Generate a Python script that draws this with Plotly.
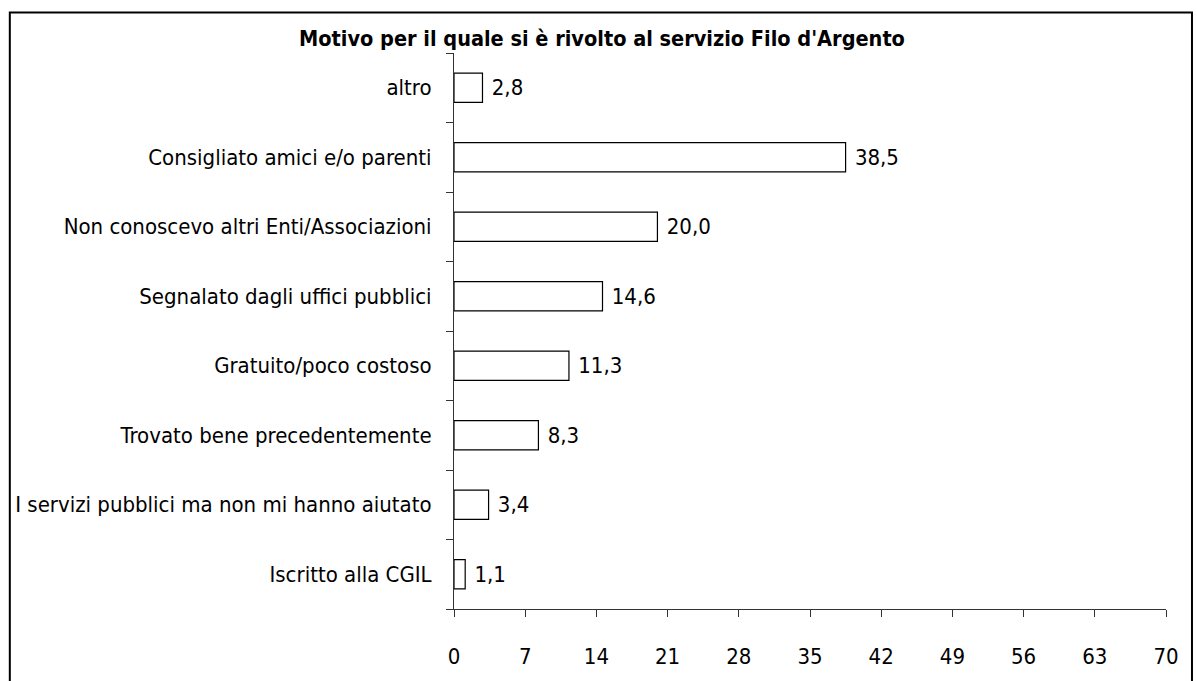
import plotly.graph_objects as go

categories = [
    "altro",
    "Consigliato amici e/o parenti",
    "Non conoscevo altri Enti/Associazioni",
    "Segnalato dagli uffici pubblici",
    "Gratuito/poco costoso",
    "Trovato bene precedentemente",
    "I servizi pubblici ma non mi hanno aiutato",
    "Iscritto alla CGIL",
]
values = [2.8, 38.5, 20.0, 14.6, 11.3, 8.3, 3.4, 1.1]
x_ticks = [0, 7, 14, 21, 28, 35, 42, 49, 56, 63, 70]
title_text = "Motivo per il quale si è rivolto al servizio Filo d'Argento"

FONT = "DejaVu Sans Condensed"
FS = 22

W, H = 1197, 681
L, R, T, B = 453.5, 1166, 52.5, 623
pw, ph = R - L, B - T


def px(xp):
    return (xp - L) / pw


def py(yp):
    return (B - yp) / ph


fig = go.Figure(
    go.Bar(
        x=values,
        y=categories,
        orientation="h",
        marker=dict(color="white", line=dict(color="black", width=1.2)),
        texttemplate=" %{x:.1f}",
        textposition="outside",
        textfont=dict(family=FONT, size=FS, color="black"),
        cliponaxis=False,
        width=0.42,
    )
)

fig.update_layout(
    width=W,
    height=H,
    margin=dict(l=L, r=W - R, t=T, b=H - B, pad=0),
    paper_bgcolor="white",
    plot_bgcolor="white",
    separators=",.",
    showlegend=False,
    font=dict(family=FONT, size=FS, color="black"),
    title=dict(
        text="<b>" + title_text + "</b>",
        x=602 / W,
        xanchor="center",
        y=1 - 38 / H,
        yanchor="middle",
        font=dict(family=FONT, size=21.5, color="black"),
    ),
    xaxis=dict(
        range=[0, 70],
        tickvals=x_ticks,
        ticktext=[str(v) for v in x_ticks],
        showgrid=False,
        zeroline=False,
        showline=True,
        linecolor="#333",
        linewidth=1,
        ticks="outside",
        ticklen=7,
        tickcolor="#333",
        ticklabelstandoff=21,
        tickfont=dict(family=FONT, size=FS),
    ),
    yaxis=dict(
        categoryorder="array",
        categoryarray=categories[::-1],
        showgrid=False,
        showline=True,
        linecolor="#333",
        linewidth=1,
        ticks="outside",
        tickson="boundaries",
        ticklen=7,
        tickcolor="#333",
        ticklabelstandoff=17,
        tickfont=dict(family=FONT, size=FS),
    ),
    shapes=[
        dict(
            type="rect",
            xref="paper",
            yref="paper",
            x0=px(9),
            x1=px(1192),
            y0=py(700),
            y1=py(11),
            line=dict(color="black", width=2),
            fillcolor="rgba(0,0,0,0)",
            layer="below",
        )
    ],
)

fig.write_html(
    "out.html",
    config={"displayModeBar": False},
    post_script="document.body.style.margin='0';document.body.style.overflow='hidden';",
)
